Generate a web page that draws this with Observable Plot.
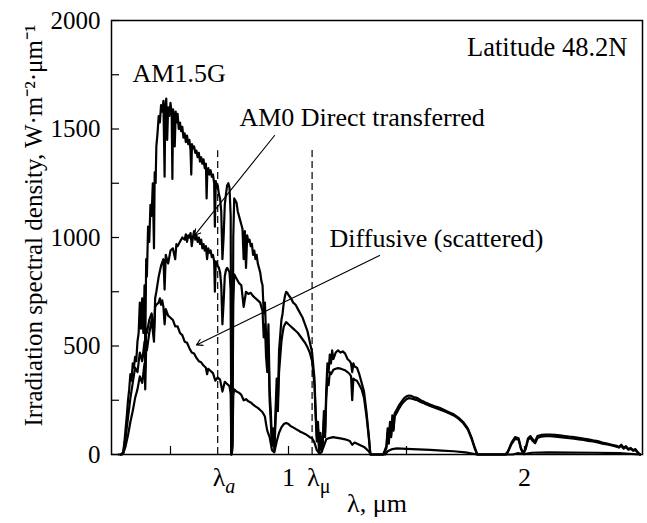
<!DOCTYPE html>
<html><head><meta charset="utf-8">
<script src="https://cdn.jsdelivr.net/npm/d3@7"></script>
<script src="https://cdn.jsdelivr.net/npm/@observablehq/plot@0.6"></script>
<style>body{margin:0;background:#fff} svg, svg text{font-family:"Liberation Serif","Times New Roman",serif !important}</style>
</head><body><div id="chart"></div>
<script>
// AM1.5G global spectrum (µm, W·m^-2·µm^-1)
const globalWl = [0.28,0.295,0.300,0.305,0.310,0.315,0.320,0.325,0.330,0.335,0.340,0.345,0.350,0.355,0.360,0.365,0.370,0.375,0.380,0.385,0.390,0.393,0.397,0.400,0.405,0.410,0.415,0.420,0.425,0.430,0.433,0.437,0.440,0.445,0.450,0.455,0.460,0.465,0.470,0.475,0.478,0.482,0.486,0.490,0.495,0.500,0.505,0.508,0.511,0.515,0.518,0.522,0.526,0.530,0.535,0.540,0.545,0.550,0.555,0.560,0.565,0.570,0.575,0.580,0.585,0.588,0.591,0.595,0.600,0.605,0.610,0.615,0.620,0.625,0.630,0.635,0.640,0.645,0.650,0.653,0.656,0.660,0.665,0.670,0.675,0.680,0.685,0.688,0.692,0.696,0.700,0.705,0.710,0.715,0.720,0.725,0.730,0.735,0.740,0.745,0.750,0.755,0.758,0.762,0.766,0.770,0.775,0.780,0.785,0.790,0.795,0.800,0.805,0.810,0.815,0.820,0.825,0.830,0.835,0.840,0.845,0.850,0.855,0.860,0.865,0.870,0.875,0.880,0.885,0.890,0.895,0.900,0.905,0.910,0.915,0.920,0.925,0.930,0.935,0.940,0.945,0.950,0.955,0.960,0.965,0.970,0.975,0.980,0.985,0.990,0.995,1.000,1.010,1.020,1.030,1.040,1.050,1.060,1.070,1.080,1.090,1.100,1.110,1.115,1.120,1.125,1.130,1.135,1.140,1.145,1.150,1.155,1.160,1.165,1.170,1.175,1.180,1.185,1.190,1.200,1.210,1.220,1.230,1.240,1.250,1.260,1.265,1.270,1.275,1.280,1.290,1.300,1.310,1.320,1.330,1.340,1.347,1.400,1.405,1.415,1.420,1.425,1.430,1.435,1.440,1.445,1.450,1.460,1.470,1.480,1.490,1.500,1.510,1.520,1.530,1.540,1.550,1.560,1.570,1.580,1.600,1.620,1.640,1.660,1.680,1.700,1.720,1.740,1.760,1.775,1.790,1.800,1.920,1.930,1.945,1.960,1.975,1.985,1.995,2.005,2.015,2.025,2.035,2.045,2.055,2.07,2.09,2.11,2.13,2.15,2.17,2.19,2.21,2.23,2.25,2.27,2.29,2.31,2.33,2.35,2.37,2.39,2.40,2.41,2.42,2.43,2.44,2.45,2.46,2.47,2.48,2.49];
const globalVal = [0,0,15,60,120,180,250,300,370,340,420,400,450,430,520,560,700,580,720,560,780,480,900,820,1050,980,1150,1100,1250,950,1300,1250,1420,1480,1560,1530,1610,1580,1630,1280,1600,1640,1450,1600,1560,1620,1570,1270,1590,1540,1420,1580,1530,1570,1500,1530,1490,1510,1460,1480,1440,1470,1430,1450,1400,1290,1430,1410,1420,1390,1400,1370,1390,1350,1370,1340,1360,1320,1340,1180,1300,1320,1290,1310,1280,1290,1250,1050,1260,1230,1240,1200,1180,1120,900,1000,1150,1200,1240,1250,1230,1100,0,50,1000,1180,1170,1160,1120,1100,1080,1060,1040,900,1030,860,1010,980,990,960,970,920,940,900,920,880,860,840,800,780,650,700,550,450,600,300,200,60,120,40,200,350,250,480,550,620,650,700,730,750,745,735,720,700,690,670,650,630,600,570,520,470,350,200,80,150,20,100,30,60,200,100,300,420,380,460,420,480,440,470,480,470,475,465,440,430,420,380,420,405,400,370,330,290,200,90,0,0,10,40,120,60,150,90,180,120,190,210,230,245,260,268,272,270,265,262,258,250,245,240,230,222,215,205,195,185,170,150,120,80,30,0,0,15,55,80,75,30,5,30,75,85,70,60,85,90,92,92,90,88,85,82,80,77,73,70,65,62,55,50,45,40,35,45,30,38,25,30,20,25,10,0];

// AM0 direct (transferred) spectrum
const directWl = [0.29,0.30,0.31,0.32,0.33,0.34,0.35,0.36,0.37,0.38,0.39,0.393,0.397,0.40,0.41,0.42,0.43,0.435,0.44,0.45,0.46,0.47,0.475,0.48,0.49,0.50,0.51,0.52,0.525,0.53,0.54,0.55,0.56,0.565,0.57,0.575,0.58,0.585,0.59,0.595,0.60,0.605,0.61,0.615,0.62,0.625,0.63,0.635,0.64,0.645,0.65,0.655,0.66,0.665,0.67,0.675,0.68,0.685,0.688,0.692,0.70,0.705,0.71,0.715,0.72,0.725,0.73,0.735,0.74,0.745,0.75,0.755,0.758,0.762,0.766,0.77,0.78,0.79,0.80,0.81,0.82,0.83,0.84,0.85,0.86,0.87,0.88,0.89,0.895,0.90,0.905,0.91,0.915,0.92,0.925,0.93,0.935,0.94,0.945,0.95,0.955,0.96,0.965,0.97,0.975,0.98,0.99,1.00,1.01,1.02,1.03,1.04,1.05,1.06,1.07,1.08,1.09,1.10,1.11,1.115,1.12,1.125,1.13,1.135,1.14,1.145,1.15,1.155,1.16,1.165,1.17,1.175,1.18,1.19,1.20,1.21,1.22,1.23,1.24,1.25,1.26,1.265,1.27,1.275,1.28,1.29,1.30,1.31,1.32,1.33,1.34,1.347,1.40,1.405,1.415,1.42,1.425,1.43,1.435,1.44,1.445,1.45,1.46,1.47,1.48,1.49,1.50,1.51,1.52,1.53,1.54,1.55,1.56,1.57,1.58,1.60,1.62,1.64,1.66,1.68,1.70,1.72,1.74,1.76,1.775,1.79,1.80,1.92,1.93,1.945,1.96,1.975,1.985,1.995,2.005,2.015,2.025,2.035,2.045,2.055,2.07,2.09,2.11,2.13,2.15,2.17,2.19,2.21,2.23,2.25,2.27,2.29,2.31,2.33,2.35,2.37,2.39,2.40,2.41,2.42,2.43,2.44,2.45,2.46,2.47,2.48,2.49];
const directVal = [0,5,40,90,150,200,260,300,360,330,420,300,500,480,560,620,520,720,750,820,870,900,760,920,880,940,950,900,970,960,980,1000,990,1015,980,1010,1000,1020,960,1000,1030,990,1010,980,1000,970,990,950,970,940,960,900,950,930,940,910,920,890,750,890,870,860,840,780,600,700,820,850,860,850,840,760,0,40,700,830,810,790,780,680,750,740,745,730,720,710,700,660,540,600,450,380,500,250,150,40,100,20,150,280,200,380,450,520,560,590,610,600,590,580,570,560,545,530,515,495,470,430,320,180,60,120,10,80,20,50,160,80,260,350,320,380,370,390,395,398,396,392,388,380,370,360,250,350,345,340,320,300,260,180,80,0,0,5,30,100,50,130,80,160,110,175,195,215,232,245,255,260,258,255,252,248,242,238,233,224,216,208,199,190,180,165,145,115,75,25,0,0,12,48,72,68,25,3,25,68,78,62,52,76,82,84,84,82,80,78,75,73,70,67,63,60,56,50,46,42,36,32,40,27,34,22,27,17,22,8,0];

// Diffusive (scattered) spectrum
const diffuseWl = [0.29,0.30,0.31,0.32,0.33,0.34,0.35,0.36,0.37,0.38,0.39,0.393,0.397,0.40,0.41,0.42,0.43,0.435,0.44,0.45,0.455,0.46,0.465,0.47,0.475,0.48,0.49,0.50,0.51,0.52,0.53,0.54,0.55,0.56,0.57,0.58,0.59,0.60,0.61,0.62,0.63,0.64,0.65,0.655,0.66,0.67,0.68,0.69,0.70,0.71,0.72,0.73,0.74,0.75,0.755,0.758,0.762,0.766,0.77,0.78,0.79,0.80,0.81,0.82,0.83,0.84,0.85,0.86,0.87,0.88,0.89,0.90,0.905,0.91,0.92,0.93,0.94,0.95,0.96,0.97,0.98,0.99,1.00,1.01,1.02,1.03,1.04,1.05,1.06,1.07,1.08,1.09,1.10,1.11,1.12,1.13,1.14,1.15,1.16,1.17,1.18,1.19,1.20,1.22,1.24,1.26,1.27,1.28,1.30,1.32,1.34,1.35,1.41,1.42,1.44,1.46,1.48,1.50,1.55,1.60,1.65,1.70,1.75,1.80,1.95,1.97,2.00,2.03,2.10,2.20,2.30,2.40,2.49];
const diffuseVal = [0,10,80,170,260,330,400,380,470,430,520,400,580,560,620,650,560,680,690,700,720,690,710,680,600,670,640,630,620,590,590,560,550,520,515,490,470,465,445,430,425,410,400,370,395,385,375,340,355,345,290,335,325,315,280,0,20,270,300,290,285,275,250,255,245,240,230,222,215,205,195,175,140,110,80,20,10,60,100,125,140,145,140,130,125,118,112,105,100,95,88,80,75,55,20,5,10,40,70,75,78,80,78,74,70,62,45,55,45,35,15,0,0,15,25,28,27,26,24,21,18,15,10,0,0,6,2,8,10,9,8,6,0];

const yTicks = [0,250,500,750,1000,1250,1500,1750,2000];
const yLabels = [0,500,1000,1500,2000];
const xTicks = [0.5,1,1.5,2];
const xLabels = [{x:1,t:"1"},{x:2,t:"2"}];
const markers = [{x:0.70,top:1400,t:"λa"},{x:1.10,top:1410,t:"λμ"}];
const notesStart = [
  {x:0.339,y:1756,t:"AM1.5G"},
  {x:0.792,y:1553,t:"AM0 Direct transferred"},
  {x:1.174,y:995,t:"Diffusive (scattered)"}
];
const notesEnd = [{x:2.436,y:1876,t:"Latitude 48.2N"}];
const arrows = [
  {x1:0.941,y1:1470,x2:0.602,y2:1010},
  {x1:1.386,y1:917,x2:0.61,y2:505}
];
const yTitle = "Irradiation spectral density, W·m⁻²·μm⁻¹";
const xTitle = "λ, μm";

const rows = (wl, val, s) => wl.map((w,i)=>({wl:w, v:val[i], s}));
const data = [...rows(globalWl,globalVal,"g"),...rows(directWl,directVal,"d"),...rows(diffuseWl,diffuseVal,"f")];

const FF = "Liberation Serif";
const W=647,H=523,ML=111,MR=5,MT=20,MB=69;
const fw = W-ML-MR, fh = H-MT-MB;
const plot = Plot.plot({
  width:W, height:H, marginLeft:ML, marginRight:MR, marginTop:MT, marginBottom:MB,
  x:{domain:[0.25,2.5], axis:null},
  y:{domain:[0,2000], axis:null},
  marks:[
    Plot.line(data,{x:"wl",y:"v",z:"s",stroke:"#000",strokeWidth:2.2,strokeLinejoin:"round"}),
    Plot.ruleX(markers,{x:"x",y1:0,y2:"top",stroke:"#000",strokeWidth:1.2,strokeDasharray:"7,4"}),
    Plot.tickY(yTicks,{y:d=>d,insetRight:fw-8,stroke:"#000",strokeWidth:1.2}),
    Plot.tickX(xTicks,{x:d=>d,insetTop:fh-8,stroke:"#000",strokeWidth:1.2}),
    Plot.frame({stroke:"#000",strokeWidth:1.5}),
    Plot.text(yLabels,{y:d=>d,text:d=>String(d),frameAnchor:"left",textAnchor:"end",dx:-11,fontSize:25,fontFamily:FF,fill:"#000"}),
    Plot.text(xLabels,{x:"x",text:"t",frameAnchor:"bottom",dy:31,fontSize:26,fontFamily:FF,fill:"#000"}),
    Plot.text(markers,{x:"x",text:"t",frameAnchor:"bottom",dy:31,textAnchor:"start",dx:-5,fontSize:26,fontFamily:FF,fill:"#000"}),
    Plot.text([xTitle],{text:d=>d,frameAnchor:"bottom",dy:57,fontSize:26,fontFamily:FF,fill:"#000"}),
    Plot.text([yTitle],{text:d=>d,frameAnchor:"left",textAnchor:"middle",dx:-78,dy:-12,rotate:-90,fontSize:25,fontFamily:FF,fill:"#000"}),
    Plot.text(notesStart,{x:"x",y:"y",text:"t",textAnchor:"start",fontSize:26,fontFamily:FF,fill:"#000"}),
    Plot.text(notesEnd,{x:"x",y:"y",text:"t",textAnchor:"end",fontSize:26.5,fontFamily:FF,fill:"#000"}),
    Plot.arrow(arrows,{x1:"x1",y1:"y1",x2:"x2",y2:"y2",stroke:"#000",strokeWidth:1.1,headLength:9})
  ]
});
document.getElementById("chart").appendChild(plot);
d3.select(plot).selectAll("text").each(function(){
  const t = this.textContent;
  if (t === "λa" || t === "λμ") {
    const sub = t.slice(1);
    this.textContent = "";
    const s = d3.select(this);
    s.append("tspan").text("λ");
    s.append("tspan").attr("dy","7").attr("font-size","20").attr("font-style", sub==="a"?"italic":"normal").text(sub);
  }
});
</script></body></html>
